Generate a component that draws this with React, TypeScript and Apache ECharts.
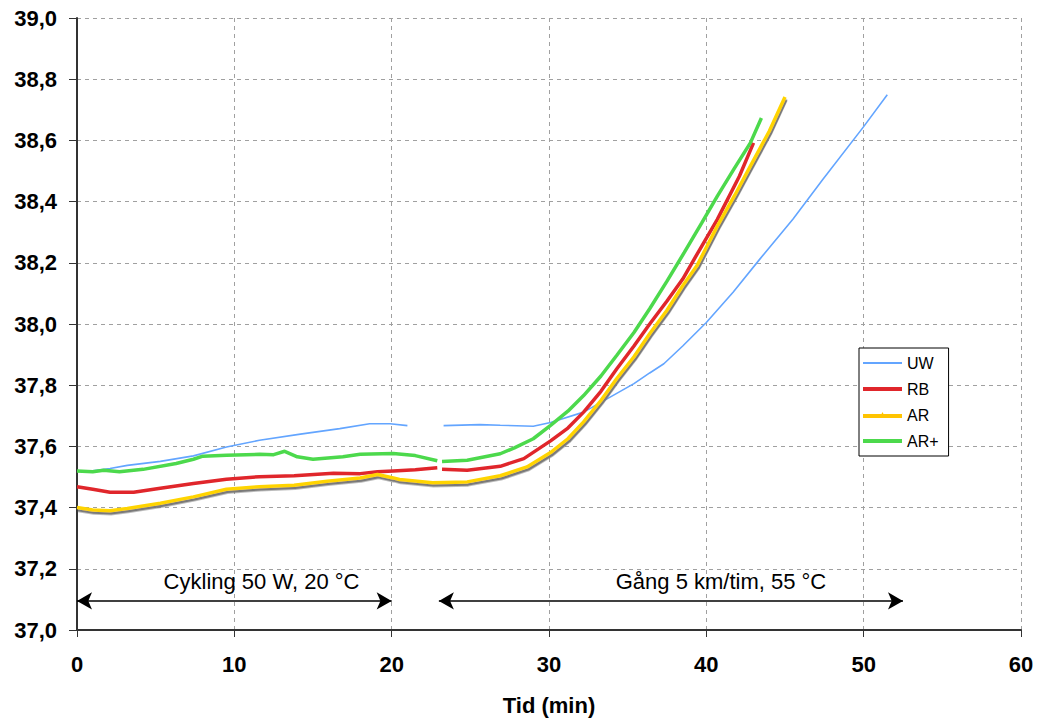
import React, { useEffect, useRef } from "react";
import * as echarts from "echarts";

// [time (min), temperature (°C)]; null marks a break in the trace
const uwData: [number, number | null][] = [
  [0, 37.52], [1.0, 37.52], [2.1, 37.528], [3.2, 37.538], [5.3, 37.551], [7.4, 37.569],
  [9.5, 37.598], [11.6, 37.62], [14.2, 37.64], [16.7, 37.658], [18.6, 37.674], [19.9, 37.674],
  [21.0, 37.668], [22.2, null], [23.3, 37.668], [25.6, 37.671], [26.9, 37.669], [29.0, 37.666],
  [30.1, 37.678], [32.2, 37.712], [35.4, 37.805], [36.4, 37.84], [37.3, 37.87], [38.5, 37.928],
  [40.0, 38.005], [41.7, 38.104], [43.4, 38.212], [45.5, 38.342], [47.4, 38.472], [50.0, 38.645],
  [51.5, 38.749],
];

const rbData: [number, number | null][] = [
  [0, 37.468], [1.0, 37.46], [2.1, 37.45], [3.6, 37.45], [5.3, 37.463], [7.4, 37.479],
  [9.5, 37.493], [11.6, 37.501], [13.8, 37.504], [16.3, 37.512], [18.0, 37.511], [19.1, 37.517],
  [20.1, 37.52], [21.5, 37.524], [22.9, 37.53], [23.05, null], [23.2, 37.525], [24.8, 37.522],
  [26.9, 37.535], [28.4, 37.56], [30.1, 37.618], [31.2, 37.66], [32.2, 37.712], [33.3, 37.78],
  [34.3, 37.853], [35.4, 37.928], [36.4, 38.0], [37.5, 38.075], [38.5, 38.147], [39.6, 38.245],
  [40.7, 38.342], [42.1, 38.483], [43.0, 38.592],
];

const arData: [number, number | null][] = [
  [0, 37.4], [1.0, 37.392], [2.1, 37.39], [3.2, 37.397], [5.3, 37.414], [7.4, 37.435],
  [9.5, 37.46], [11.6, 37.468], [13.8, 37.473], [15.9, 37.486], [18.0, 37.497], [19.1, 37.508],
  [20.1, 37.497], [20.5, 37.492], [22.6, 37.481], [24.8, 37.484], [26.9, 37.504], [28.6, 37.533],
  [30.1, 37.58], [31.2, 37.625], [32.2, 37.68], [33.3, 37.75], [34.3, 37.821], [35.4, 37.893],
  [36.4, 37.968], [37.5, 38.045], [38.5, 38.125], [39.4, 38.19], [40.7, 38.32], [41.8, 38.42],
  [42.8, 38.516], [44.0, 38.63], [45.0, 38.742],
];

const arPlusData: [number, number | null][] = [
  [0, 37.52], [1.0, 37.517], [1.7, 37.522], [2.7, 37.517], [4.2, 37.525], [6.3, 37.544],
  [7.4, 37.558], [8.0, 37.568], [9.5, 37.571], [11.6, 37.574], [12.5, 37.573], [13.2, 37.584],
  [14.0, 37.566], [15.0, 37.558], [16.9, 37.566], [18.0, 37.574], [20.1, 37.577], [21.5, 37.57],
  [22.9, 37.553], [23.05, null], [23.2, 37.551], [24.8, 37.555], [26.9, 37.576], [27.8, 37.595],
  [29.0, 37.625], [30.1, 37.669], [31.2, 37.715], [32.2, 37.766], [33.3, 37.83], [34.3, 37.897],
  [35.4, 37.972], [36.4, 38.05], [37.5, 38.14], [38.6, 38.234], [39.7, 38.33], [40.7, 38.418],
  [41.8, 38.51], [42.8, 38.592], [43.5, 38.673],
];

const seriesNames = ["UW", "RB", "AR", "AR+"];
const seriesColors = ["#63a5ff", "#e0262b", "#ffd400", "#4cd94c"];
const legendColors = ["#63a5ff", "#e0262b", "#ffc400", "#4cd94c"];

// annotation arrows: [start min, end min] at a temperature level
const arrowRanges: [number, number][] = [[0, 20], [23, 52.5]];
const arrowLevel = 37.095;
const annotationTexts: [number, number, string][] = [
  [11.73, 37.16, "Cykling 50 W, 20 °C"],
  [40.93, 37.16, "Gång 5 km/tim, 55 °C"],
];

const yTicks = { min: 37, max: 39, interval: 0.2 };
const xTicks = { min: 0, max: 60, interval: 10 };

const FONT = "'Liberation Sans', Arial, Helvetica, sans-serif";

// legend icons: a horizontal bar (thin for UW), AR with a small triangle
const legendIcons = [
  "path://M0,0 L40,0 L40,2 L0,2 Z M0,0 L0,0",
  "path://M0,0 L40,0 L40,4 L0,4 Z",
  "path://M0,2 L40,2 L40,6 L0,6 Z M18,4 L20,0 L22,4 Z",
  "path://M0,0 L40,0 L40,4 L0,4 Z",
];

const toSeriesData = (arr: [number, number | null][]) =>
  arr.map(([t, v]) => (v === null ? [t, "-"] : [t, v]));

export default function App() {
  const ref = useRef<HTMLDivElement>(null);

  useEffect(() => {
    if (!ref.current) return;
    const chart = echarts.init(ref.current, null, { renderer: "svg" });
    const lineBase = {
      type: "line" as const,
      showSymbol: false,
      symbol: "none",
      connectNulls: false,
      z: 3,
    };
    chart.setOption({
      animation: false,
      backgroundColor: "#ffffff",
      textStyle: { fontFamily: FONT },
      grid: { left: 77, right: 19, top: 18, bottom: 89, containLabel: false },
      legend: {
        data: seriesNames.map((n, i) => ({
          name: n,
          icon: legendIcons[i],
          itemStyle: { color: legendColors[i], borderWidth: 0 },
        })),
        orient: "vertical",
        left: 859,
        top: 348,
        padding: [7, 10, 7, 4],
        itemWidth: 39,
        itemHeight: 14,
        itemGap: 10,
        backgroundColor: "#ffffff",
        borderColor: "#000000",
        borderWidth: 1,
        borderRadius: 0,
        textStyle: { fontSize: 16, color: "#000", fontFamily: FONT },
      },
      xAxis: {
        type: "value",
        min: xTicks.min,
        max: xTicks.max,
        interval: xTicks.interval,
        name: "Tid (min)",
        nameLocation: "middle",
        nameGap: 64,
        nameTextStyle: { fontSize: 22, fontWeight: "bold", color: "#000", fontFamily: FONT },
        axisLine: { show: true, onZero: false, lineStyle: { color: "#333", width: 2 } },
        axisTick: { show: true, length: 7, lineStyle: { color: "#333", width: 1 } },
        axisLabel: { fontSize: 22, fontWeight: "bold", color: "#000", margin: 23, fontFamily: FONT },
        splitLine: { show: true, lineStyle: { color: "#a0a0a0", type: [4, 4], width: 1 } },
      },
      yAxis: {
        type: "value",
        min: yTicks.min,
        max: yTicks.max,
        interval: yTicks.interval,
        axisLine: { show: true, lineStyle: { color: "#333", width: 2 } },
        axisTick: { show: true, length: 8, lineStyle: { color: "#333", width: 1 } },
        axisLabel: {
          fontSize: 22,
          fontWeight: "bold",
          color: "#000",
          margin: 20,
          fontFamily: FONT,
          formatter: (v: number) => v.toFixed(1).replace(".", ","),
        },
        splitLine: { show: true, lineStyle: { color: "#a0a0a0", type: [4, 4], width: 1 } },
      },
      series: [
        {
          ...lineBase,
          name: "UW",
          data: toSeriesData(uwData),
          color: seriesColors[0],
          lineStyle: { color: seriesColors[0], width: 1.6 },
        },
        {
          ...lineBase,
          name: "RB",
          data: toSeriesData(rbData),
          color: seriesColors[1],
          lineStyle: { color: seriesColors[1], width: 3.5 },
        },
        {
          ...lineBase,
          name: "AR",
          data: toSeriesData(arData),
          color: seriesColors[2],
          lineStyle: {
            color: seriesColors[2],
            width: 3.5,
            shadowColor: "#7a7a7a",
            shadowOffsetX: 1,
            shadowOffsetY: 2.5,
            shadowBlur: 0,
          },
        },
        {
          ...lineBase,
          name: "AR+",
          data: toSeriesData(arPlusData),
          color: seriesColors[3],
          lineStyle: { color: seriesColors[3], width: 3.5 },
        },
        {
          name: "annotations",
          type: "scatter",
          symbolSize: 1,
          itemStyle: { color: "transparent" },
          silent: true,
          z: 5,
          data: annotationTexts.map(([x, y, t]) => ({ value: [x, y], name: t })),
          label: {
            show: true,
            position: "inside",
            formatter: (p: any) => p.name,
            fontSize: 22,
            color: "#000000",
            textBorderWidth: 0,
            opacity: 1,
            fontFamily: FONT,
          },
          markLine: {
            silent: true,
            symbol: ["arrow", "arrow"],
            symbolSize: [13, 15],
            label: { show: false },
            lineStyle: { color: "#000", width: 1.5, type: "solid" },
            data: arrowRanges.map(([a, b]) => [
              { coord: [a, arrowLevel] },
              { coord: [b, arrowLevel] },
            ]),
          },
        },
      ],
    });
    return () => chart.dispose();
  }, []);

  return (
    <div
      ref={ref}
      style={{ position: "fixed", left: 0, top: 0, width: 1040, height: 721, background: "#fff" }}
    />
  );
}
